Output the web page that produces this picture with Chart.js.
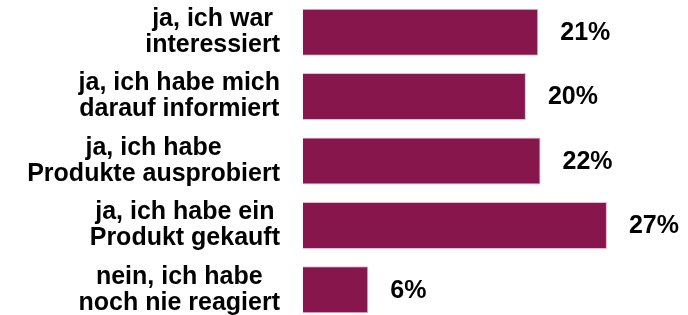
<!DOCTYPE html>
<html>
<head>
<meta charset="utf-8">
<script src="https://cdn.jsdelivr.net/npm/chart.js@4.4.1/dist/chart.umd.min.js"></script>
<style>
  html, body { margin: 0; padding: 0; background: #fff; overflow: hidden; }
  #wrap { width: 688px; height: 322px; }
</style>
</head>
<body>
<div id="wrap"><canvas id="answerChart" width="688" height="322"></canvas></div>
<script>
// categories (one array entry per line of the label)
const categories = [
  ['ja, ich war', 'interessiert'],
  ['ja, ich habe mich', 'darauf informiert'],
  ['ja, ich habe', 'Produkte ausprobiert'],
  ['ja, ich habe ein', 'Produkt gekauft'],
  ['nein, ich habe', 'noch nie reagiert']
];
// bar lengths (percent)
const shares = [20.9, 19.8, 21.1, 27, 5.8];
// value labels as printed next to the bars
const shareLabels = ['21%', '20%', '22%', '27%', '6%'];

const barColor = '#86164c';
const labelFont = 'bold 25px "Liberation Sans", Arial, sans-serif';

// draws the two-line category labels and the percent labels
const labelPlugin = {
  id: 'labelPlugin',
  afterDatasetsDraw(chart) {
    const ctx = chart.ctx;
    const xScale = chart.scales.x;
    const yScale = chart.scales.y;
    const labelRight = 280;
    const lineH = 26;
    ctx.save();
    ctx.font = labelFont;
    ctx.fillStyle = '#000';
    ctx.textBaseline = 'middle';
    categories.forEach((lines, i) => {
      const y = yScale.getPixelForValue(i);
      // block is right aligned, the lines inside are centered
      const maxW = Math.max(...lines.map(l => ctx.measureText(l).width));
      const cx = labelRight - maxW / 2;
      ctx.textAlign = 'center';
      lines.forEach((line, k) => {
        ctx.fillText(line, cx, y - (lines.length - 1) * lineH / 2 + k * lineH);
      });
      // percent label after the bar
      const xEnd = xScale.getPixelForValue(shares[i]);
      ctx.textAlign = 'left';
      ctx.fillText(shareLabels[i], xEnd + 22, y + 1);
    });
    ctx.restore();
  }
};

new Chart(document.getElementById('answerChart'), {
  type: 'bar',
  data: {
    labels: categories.map(c => c.join(' ')),
    datasets: [{
      data: shares,
      backgroundColor: barColor,
      borderColor: '#e2bcd0',
      borderWidth: 1,
      categoryPercentage: 1,
      barPercentage: 0.73
    }]
  },
  options: {
    indexAxis: 'y',
    responsive: false,
    animation: false,
    layout: { padding: { left: 303, right: 0, top: 0, bottom: 0 } },
    plugins: {
      legend: { display: false },
      tooltip: { enabled: false }
    },
    scales: {
      x: { display: false, min: 0, max: 34.2 },
      y: { display: false }
    }
  },
  plugins: [labelPlugin]
});
</script>
</body>
</html>
